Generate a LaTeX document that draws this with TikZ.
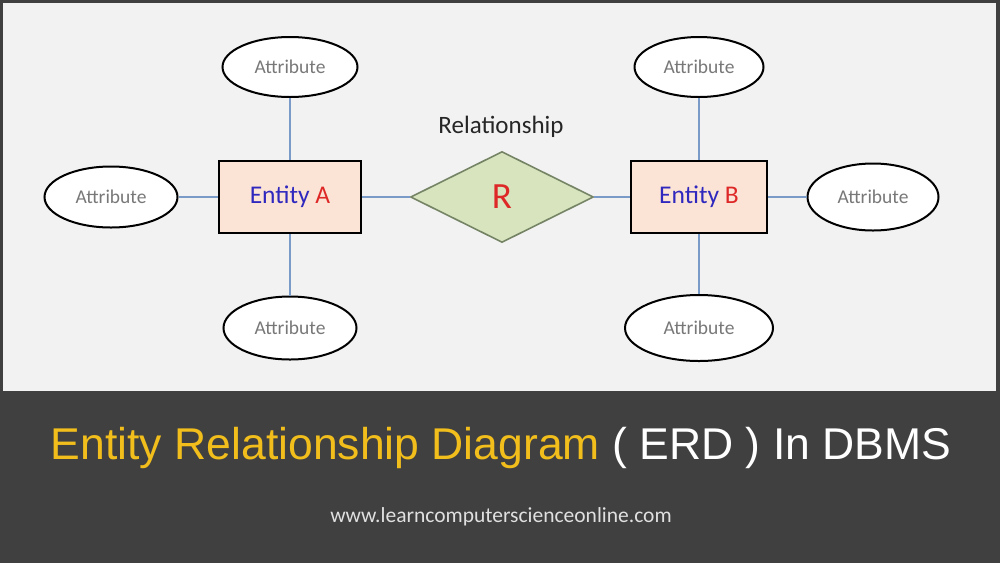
\documentclass[tikz,border=0pt]{standalone}
\usepackage{fontspec}
\setmainfont{Carlito}
\newfontfamily\titlefont{Liberation Sans}
\usetikzlibrary{shapes.geometric}
\definecolor{bgdark}{RGB}{64,64,64}
\definecolor{bglight}{RGB}{242,242,242}
\definecolor{linkblue}{RGB}{122,155,200}
\definecolor{entfill}{RGB}{251,228,213}
\definecolor{relfill}{RGB}{215,228,190}
\definecolor{reldraw}{RGB}{118,132,102}
\definecolor{attrtext}{RGB}{120,120,120}
\definecolor{entblue}{RGB}{48,40,190}
\definecolor{entred}{RGB}{222,40,40}
\definecolor{gold}{RGB}{242,190,28}
\tikzset{
  attr/.style={ellipse, draw=black, line width=2pt, fill=white, inner sep=0pt,
    font=\fontsize{19.5}{22}\selectfont, text=attrtext},
  entity/.style={rectangle, draw=black, line width=2pt, fill=entfill, inner sep=0pt,
    minimum width=142pt, minimum height=72pt, font=\fontsize{25.5}{28}\selectfont},
  rel/.style={diamond, draw=reldraw, line width=1.6pt, fill=relfill, inner sep=0pt,
    minimum width=183pt, minimum height=91pt, font=\fontsize{37}{40}\selectfont, text=entred},
  link/.style={draw=linkblue, line width=2pt}
}
\begin{document}
\begin{tikzpicture}[x=1pt,y=-1pt]
\useasboundingbox (0,0) rectangle (1000,563);
\fill[bgdark] (0,0) rectangle (1000,563);
\fill[bglight] (3,3) rectangle (996,391);
% nodes
\node[entity] (ea) at (290,197) {\textcolor{entblue}{Entity} \textcolor{entred}{A}};
\node[entity, minimum width=136pt] (eb) at (699,197) {\textcolor{entblue}{Entity} \textcolor{entred}{B}};
\node[rel] (r) at (502,197) {R};
\node[font=\fontsize{25}{28}\selectfont, text=black!85] (rl) at (501,127) {Relationship};
\node[attr, minimum width=135pt, minimum height=60pt] (ta) at (290,67) {Attribute};
\node[attr, minimum width=133pt, minimum height=61pt] (la) at (111,197) {Attribute};
\node[attr, minimum width=133pt, minimum height=63pt] (ba) at (290,328) {Attribute};
\node[attr, minimum width=129pt, minimum height=60pt] (tb) at (699,67) {Attribute};
\node[attr, minimum width=131pt, minimum height=67pt] (rb) at (873,197) {Attribute};
\node[attr, minimum width=148pt, minimum height=66pt] (bb) at (699,328) {Attribute};
% connectors
\draw[link] (ta) -- (ea);
\draw[link] (la) -- (ea);
\draw[link] (ba) -- (ea);
\draw[link] (ea) -- (r);
\draw[link] (r) -- (eb);
\draw[link] (tb) -- (eb);
\draw[link] (rb) -- (eb);
\draw[link] (bb) -- (eb);
% title
\node[font=\titlefont\fontsize{44.5}{50}\selectfont] (title) at (501,448)
  {\textcolor{gold}{Entity Relationship Diagram} \textcolor{white}{( ERD ) In DBMS}};
\node[font=\fontsize{21.5}{24}\selectfont, text=white!88!black] (url) at (501,517) {www.learncomputerscienceonline.com};
\end{tikzpicture}
\end{document}
